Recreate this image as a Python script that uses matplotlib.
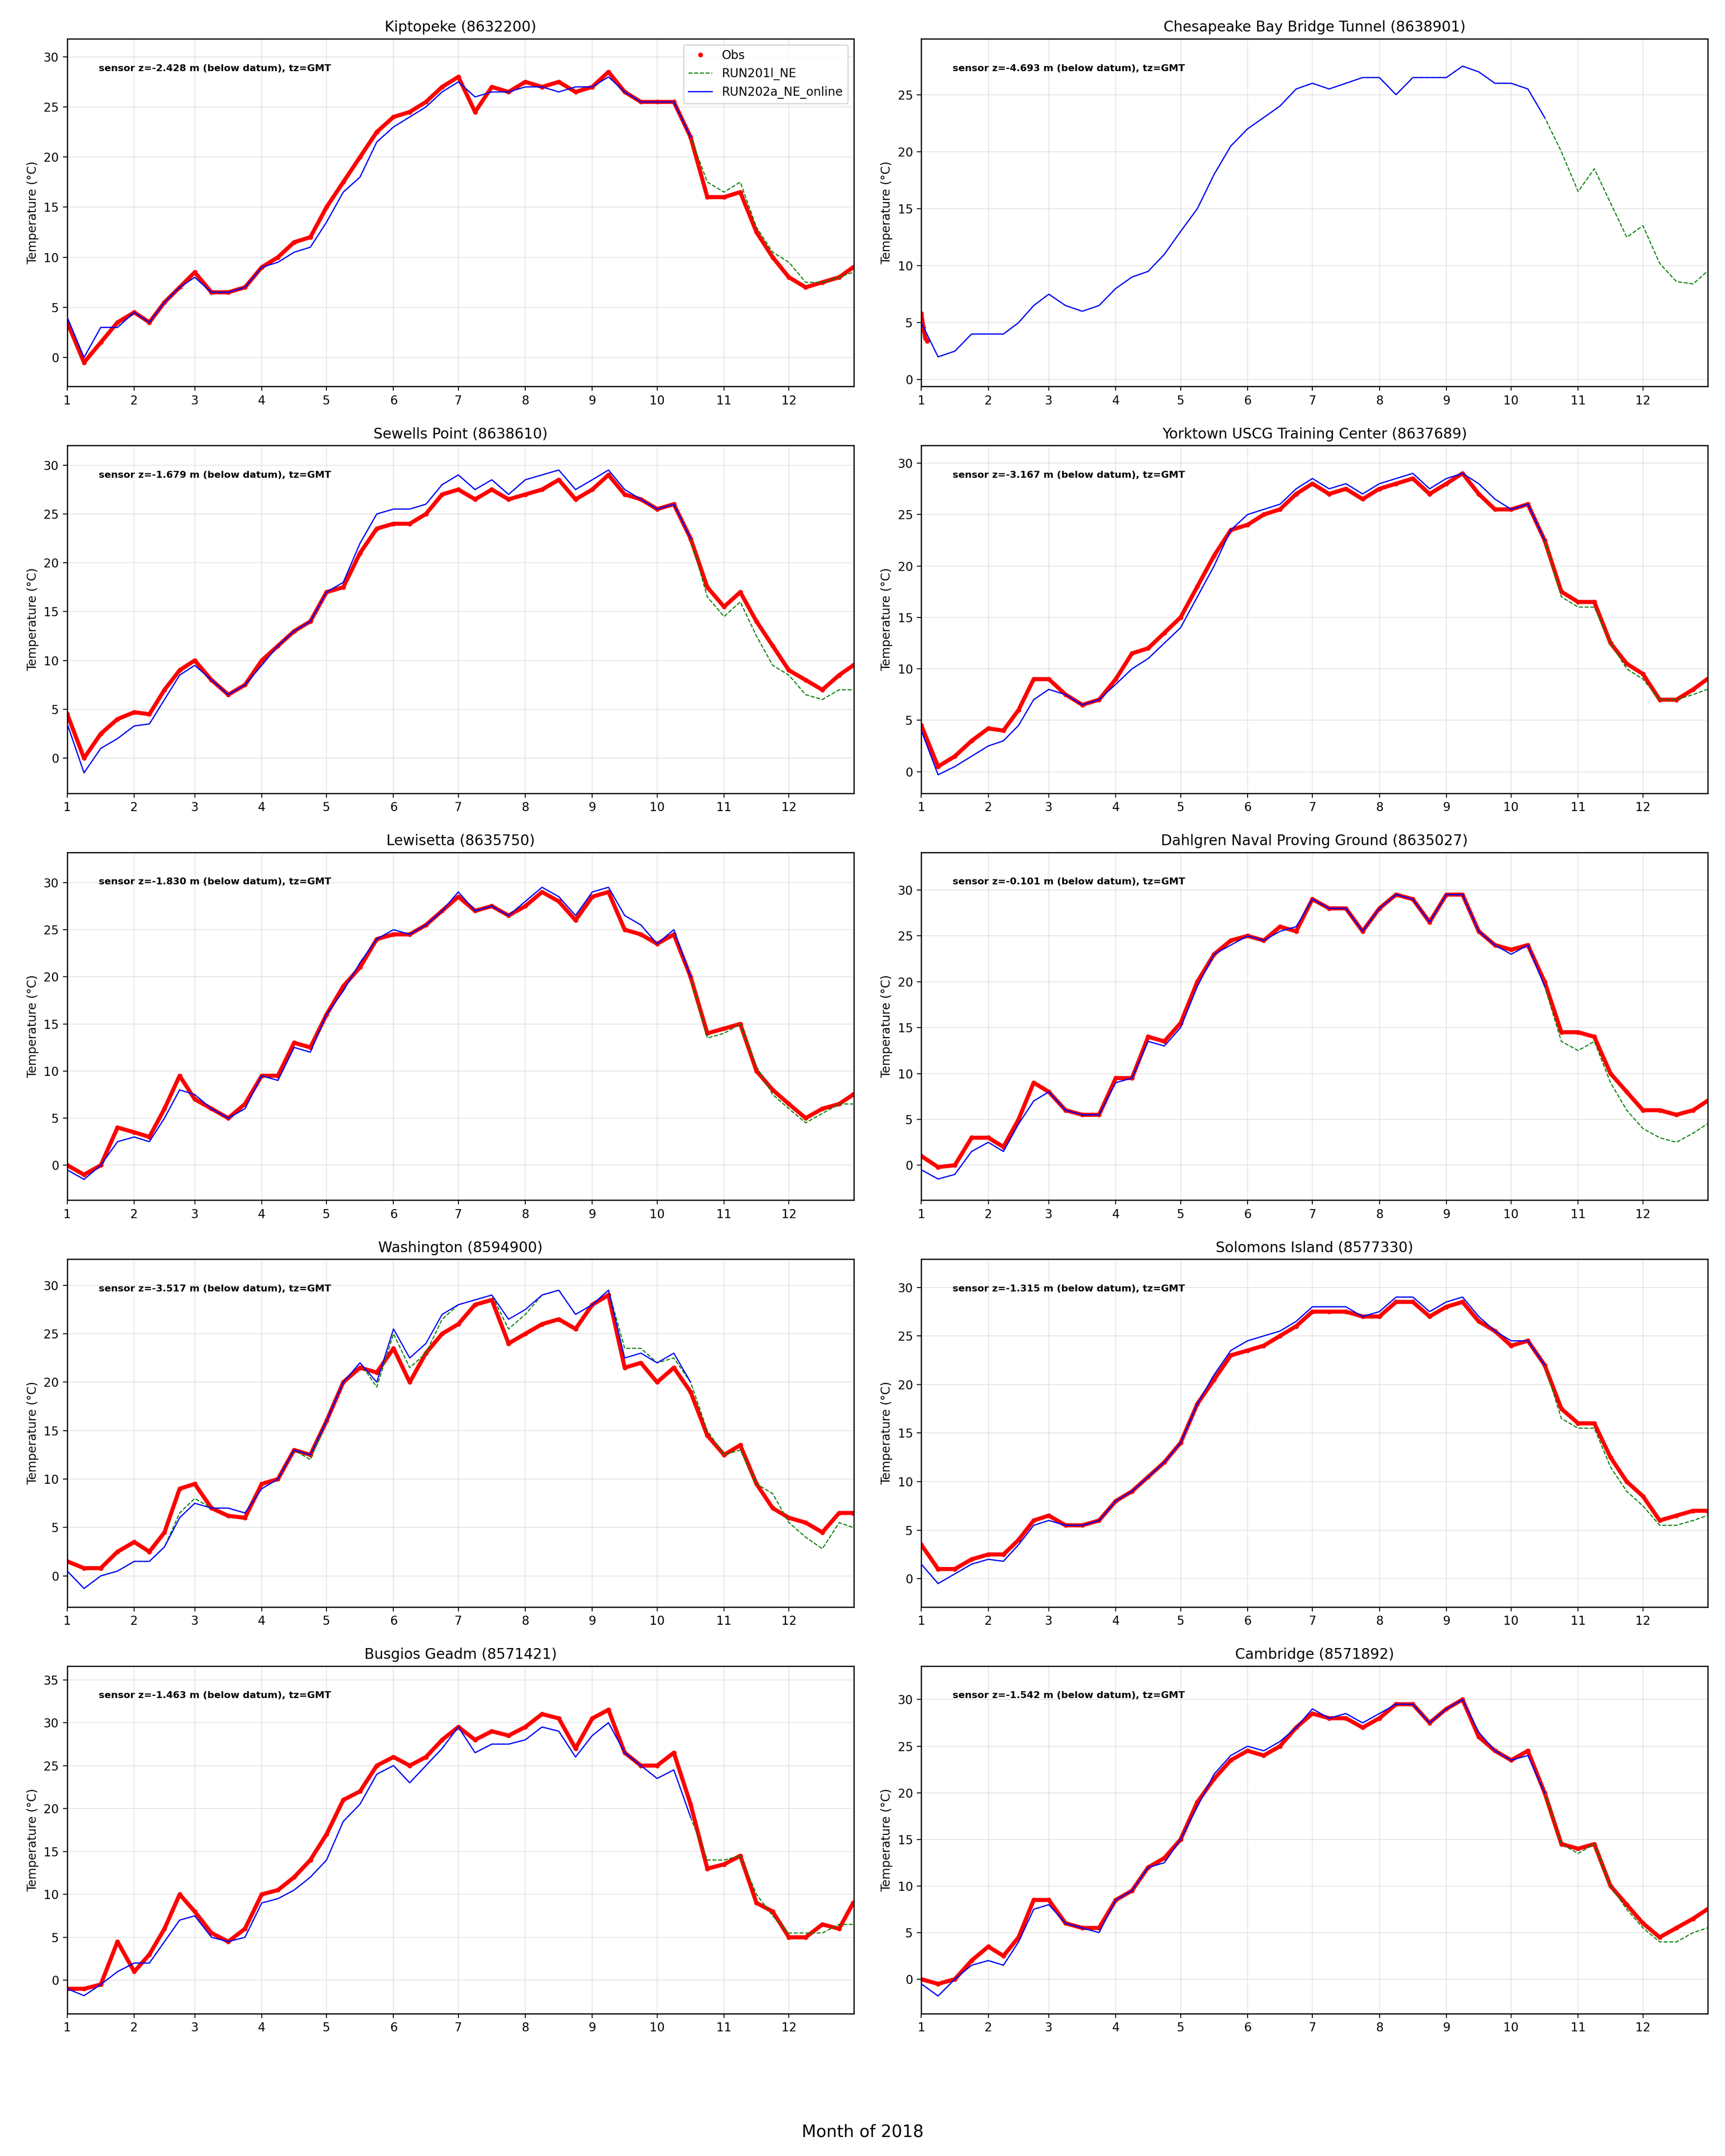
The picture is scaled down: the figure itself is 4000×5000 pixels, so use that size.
import numpy as np
import matplotlib
matplotlib.use('Agg')
import matplotlib.pyplot as plt

# sample positions in "month" units (1.0 = Jan 1, 12.96 ~ Dec 31), every quarter month
T = list(np.arange(1.0, 12.76, 0.25)) + [12.96]
N_R202 = 39   # RUN202a_NE_online stops around mid October (10.5)

MONTH_START = [0, 31, 59, 90, 120, 151, 181, 212, 243, 273, 304, 334]
MONTH_LEN = [31, 28, 31, 30, 31, 30, 31, 31, 30, 31, 30, 31]
MONTH_LABELS = [str(m) for m in range(1, 13)]

STATIONS = [
    'Kiptopeke (8632200)', 'Chesapeake Bay Bridge Tunnel (8638901)',
    'Sewells Point (8638610)', 'Yorktown USCG Training Center (8637689)',
    'Lewisetta (8635750)', 'Dahlgren Naval Proving Ground (8635027)',
    'Washington (8594900)', 'Solomons Island (8577330)',
    'Busgios Geadm (8571421)', 'Cambridge (8571892)',
]
SENSOR_Z = ['-2.428', '-4.693', '-1.679', '-3.167', '-1.830',
            '-0.101', '-3.517', '-1.315', '-1.463', '-1.542']

# --- Kiptopeke
KIP_OBS = [3.5, -0.5, 1.5, 3.5, 4.5, 3.5, 5.5, 7.0, 8.5, 6.5, 6.5, 7.0,
           9.0, 10.0, 11.5, 12.0, 15.0, 17.5, 20.0, 22.5, 24.0, 24.5, 25.5, 27.0,
           28.0, 24.5, 27.0, 26.5, 27.5, 27.0, 27.5, 26.5, 27.0, 28.5, 26.5, 25.5,
           25.5, 25.5, 22.0, 16.0, 16.0, 16.5, 12.5, 10.0, 8.0, 7.0, 7.5, 8.0, 9.0]
KIP_R202 = [4.0, 0.0, 3.0, 3.0, 4.5, 3.5, 5.5, 7.0, 8.0, 6.5, 6.5, 7.0,
            9.0, 9.5, 10.5, 11.0, 13.5, 16.5, 18.0, 21.5, 23.0, 24.0, 25.0, 26.5,
            27.5, 26.0, 26.5, 26.5, 27.0, 27.0, 26.5, 27.0, 27.0, 28.0, 26.5, 25.5,
            25.5, 25.5, 22.0]
KIP_R201 = [4.0, 0.0, 3.0, 3.0, 4.5, 3.5, 5.5, 7.0, 8.0, 6.5, 6.5, 7.0,
            9.0, 9.5, 10.5, 11.0, 13.5, 16.5, 18.0, 21.5, 23.0, 24.0, 25.0, 26.5,
            27.5, 26.0, 26.5, 26.5, 27.0, 27.0, 26.5, 27.0, 27.0, 28.0, 26.5, 25.5,
            25.5, 25.5, 22.0, 17.5, 16.5, 17.5, 13.0, 10.5, 9.5, 7.5, 7.5, 8.0, 8.5]

# --- Chesapeake Bay Bridge Tunnel (obs only for the first days)
CBBT_OBS_T = [1.0, 1.03, 1.06, 1.09]
CBBT_OBS = [5.8, 4.6, 3.6, 3.4]
CBBT_R202 = [5.0, 2.0, 2.5, 4.0, 4.0, 4.0, 5.0, 6.5, 7.5, 6.5, 6.0, 6.5,
             8.0, 9.0, 9.5, 11.0, 13.0, 15.0, 18.0, 20.5, 22.0, 23.0, 24.0, 25.5,
             26.0, 25.5, 26.0, 26.5, 26.5, 25.0, 26.5, 26.5, 26.5, 27.5, 27.0, 26.0,
             26.0, 25.5, 23.0]
CBBT_R201 = [5.0, 2.0, 2.5, 4.0, 4.0, 4.0, 5.0, 6.5, 7.5, 6.5, 6.0, 6.5,
             8.0, 9.0, 9.5, 11.0, 13.0, 15.0, 18.0, 20.5, 22.0, 23.0, 24.0, 25.5,
             26.0, 25.5, 26.0, 26.5, 26.5, 25.0, 26.5, 26.5, 26.5, 27.5, 27.0, 26.0,
             26.0, 25.5, 23.0, 20.0, 16.5, 18.5, 15.5, 12.5, 13.5, 10.2, 8.6, 8.4, 9.5]

# --- Sewells Point
SEW_OBS = [4.5, 0.0, 2.5, 4.0, 4.7, 4.5, 7.0, 9.0, 10.0, 8.0, 6.5, 7.5,
           10.0, 11.5, 13.0, 14.0, 17.0, 17.5, 21.0, 23.5, 24.0, 24.0, 25.0, 27.0,
           27.5, 26.5, 27.5, 26.5, 27.0, 27.5, 28.5, 26.5, 27.5, 29.0, 27.0, 26.5,
           25.5, 26.0, 22.5, 17.5, 15.5, 17.0, 14.0, 11.5, 9.0, 8.0, 7.0, 8.5, 9.5]
SEW_R202 = [3.5, -1.5, 1.0, 2.0, 3.3, 3.5, 6.0, 8.5, 9.5, 8.0, 6.5, 7.5,
            9.5, 11.5, 13.0, 14.0, 17.0, 18.0, 22.0, 25.0, 25.5, 25.5, 26.0, 28.0,
            29.0, 27.5, 28.5, 27.0, 28.5, 29.0, 29.5, 27.5, 28.5, 29.5, 27.5, 26.5,
            25.5, 26.0, 22.5]
SEW_R201 = [3.5, -1.5, 1.0, 2.0, 3.3, 3.5, 6.0, 8.5, 9.5, 8.0, 6.5, 7.5,
            9.5, 11.5, 13.0, 14.0, 17.0, 18.0, 22.0, 25.0, 25.5, 25.5, 26.0, 28.0,
            29.0, 27.5, 28.5, 27.0, 28.5, 29.0, 29.5, 27.5, 28.5, 29.5, 27.5, 26.5,
            25.5, 26.0, 22.5, 16.5, 14.5, 16.0, 12.5, 9.5, 8.5, 6.5, 6.0, 7.0, 7.0]

# --- Yorktown
YRK_OBS = [4.5, 0.5, 1.5, 3.0, 4.2, 4.0, 6.0, 9.0, 9.0, 7.5, 6.5, 7.0,
           9.0, 11.5, 12.0, 13.5, 15.0, 18.0, 21.0, 23.5, 24.0, 25.0, 25.5, 27.0,
           28.0, 27.0, 27.5, 26.5, 27.5, 28.0, 28.5, 27.0, 28.0, 29.0, 27.0, 25.5,
           25.5, 26.0, 22.5, 17.5, 16.5, 16.5, 12.5, 10.5, 9.5, 7.0, 7.0, 8.0, 9.0]
YRK_R202 = [4.0, -0.3, 0.5, 1.5, 2.5, 3.0, 4.5, 7.0, 8.0, 7.5, 6.5, 7.0,
            8.5, 10.0, 11.0, 12.5, 14.0, 17.0, 20.0, 23.5, 25.0, 25.5, 26.0, 27.5,
            28.5, 27.5, 28.0, 27.0, 28.0, 28.5, 29.0, 27.5, 28.5, 29.0, 28.0, 26.5,
            25.5, 26.0, 22.5]
YRK_R201 = [4.0, -0.3, 0.5, 1.5, 2.5, 3.0, 4.5, 7.0, 8.0, 7.5, 6.5, 7.0,
            8.5, 10.0, 11.0, 12.5, 14.0, 17.0, 20.0, 23.5, 25.0, 25.5, 26.0, 27.5,
            28.5, 27.5, 28.0, 27.0, 28.0, 28.5, 29.0, 27.5, 28.5, 29.0, 28.0, 26.5,
            25.5, 26.0, 22.5, 17.0, 16.0, 16.0, 12.5, 10.0, 9.0, 7.0, 7.0, 7.5, 8.0]

# --- Lewisetta
LEW_OBS = [0.0, -1.0, 0.0, 4.0, 3.5, 3.0, 6.0, 9.5, 7.0, 6.0, 5.0, 6.5,
           9.5, 9.5, 13.0, 12.5, 16.0, 19.0, 21.0, 24.0, 24.5, 24.5, 25.5, 27.0,
           28.5, 27.0, 27.5, 26.5, 27.5, 29.0, 28.0, 26.0, 28.5, 29.0, 25.0, 24.5,
           23.5, 24.5, 20.0, 14.0, 14.5, 15.0, 10.0, 8.0, 6.5, 5.0, 6.0, 6.5, 7.5]
LEW_R202 = [-0.5, -1.5, 0.0, 2.5, 3.0, 2.5, 5.0, 8.0, 7.5, 6.0, 5.0, 6.0,
            9.5, 9.0, 12.5, 12.0, 16.0, 18.5, 21.5, 24.0, 25.0, 24.5, 25.5, 27.0,
            29.0, 27.0, 27.5, 26.5, 28.0, 29.5, 28.5, 26.5, 29.0, 29.5, 26.5, 25.5,
            23.5, 25.0, 20.0]
LEW_R201 = [-0.5, -1.5, 0.0, 2.5, 3.0, 2.5, 5.0, 8.0, 7.5, 6.0, 5.0, 6.0,
            9.5, 9.0, 12.5, 12.0, 16.0, 18.5, 21.5, 24.0, 25.0, 24.5, 25.5, 27.0,
            29.0, 27.0, 27.5, 26.5, 28.0, 29.5, 28.5, 26.5, 29.0, 29.5, 26.5, 25.5,
            23.5, 25.0, 20.0, 13.5, 14.0, 15.0, 10.5, 7.5, 6.0, 4.5, 5.5, 6.5, 6.5]

# --- Dahlgren
DAH_OBS = [1.0, -0.2, 0.0, 3.0, 3.0, 2.0, 5.0, 9.0, 8.0, 6.0, 5.5, 5.5,
           9.5, 9.5, 14.0, 13.5, 15.5, 20.0, 23.0, 24.5, 25.0, 24.5, 26.0, 25.5,
           29.0, 28.0, 28.0, 25.5, 28.0, 29.5, 29.0, 26.5, 29.5, 29.5, 25.5, 24.0,
           23.5, 24.0, 20.0, 14.5, 14.5, 14.0, 10.0, 8.0, 6.0, 6.0, 5.5, 6.0, 7.0]
DAH_R202 = [-0.5, -1.5, -1.0, 1.5, 2.5, 1.5, 4.5, 7.0, 8.0, 6.0, 5.5, 5.5,
            9.0, 9.5, 13.5, 13.0, 15.0, 19.5, 23.0, 24.0, 25.0, 24.5, 25.5, 26.0,
            29.0, 28.0, 28.0, 25.5, 28.0, 29.5, 29.0, 26.5, 29.5, 29.5, 25.5, 24.0,
            23.0, 24.0, 19.5]
DAH_R201 = [-0.5, -1.5, -1.0, 1.5, 2.5, 1.5, 4.5, 7.0, 8.0, 6.0, 5.5, 5.5,
            9.0, 9.5, 13.5, 13.0, 15.0, 19.5, 23.0, 24.0, 25.0, 24.5, 25.5, 26.0,
            29.0, 28.0, 28.0, 25.5, 28.0, 29.5, 29.0, 26.5, 29.5, 29.5, 25.5, 24.0,
            23.0, 24.0, 19.5, 13.5, 12.5, 13.5, 9.0, 6.0, 4.0, 3.0, 2.5, 3.5, 4.5]

# --- Washington
WAS_OBS = [1.5, 0.8, 0.8, 2.5, 3.5, 2.5, 4.5, 9.0, 9.5, 7.0, 6.2, 6.0,
           9.5, 10.0, 13.0, 12.5, 16.0, 20.0, 21.5, 21.0, 23.5, 20.0, 23.0, 25.0,
           26.0, 28.0, 28.5, 24.0, 25.0, 26.0, 26.5, 25.5, 28.0, 29.0, 21.5, 22.0,
           20.0, 21.5, 19.0, 14.5, 12.5, 13.5, 9.5, 7.0, 6.0, 5.5, 4.5, 6.5, 6.5]
WAS_R202 = [0.5, -1.3, 0.0, 0.5, 1.5, 1.5, 3.0, 6.0, 7.5, 7.0, 7.0, 6.5,
            9.0, 10.0, 13.0, 12.5, 16.0, 20.0, 22.0, 20.0, 25.5, 22.5, 24.0, 27.0,
            28.0, 28.5, 29.0, 26.5, 27.5, 29.0, 29.5, 27.0, 28.0, 29.5, 22.5, 23.0,
            22.0, 23.0, 20.0]
WAS_R201 = [0.5, -1.3, 0.0, 0.5, 1.5, 1.5, 3.0, 6.5, 8.0, 7.0, 7.0, 6.5,
            9.0, 10.0, 13.0, 12.0, 16.0, 20.0, 22.0, 19.5, 25.0, 21.5, 23.0, 26.5,
            28.0, 28.5, 29.0, 25.5, 27.0, 29.0, 29.5, 27.0, 28.0, 29.5, 23.5, 23.5,
            22.0, 22.5, 20.0, 15.0, 12.5, 13.0, 9.5, 8.5, 5.5, 4.0, 2.8, 5.5, 5.0]

# --- Solomons Island
SOL_OBS = [3.5, 1.0, 1.0, 2.0, 2.5, 2.5, 4.0, 6.0, 6.5, 5.5, 5.5, 6.0,
           8.0, 9.0, 10.5, 12.0, 14.0, 18.0, 20.5, 23.0, 23.5, 24.0, 25.0, 26.0,
           27.5, 27.5, 27.5, 27.0, 27.0, 28.5, 28.5, 27.0, 28.0, 28.5, 26.5, 25.5,
           24.0, 24.5, 22.0, 17.5, 16.0, 16.0, 12.5, 10.0, 8.5, 6.0, 6.5, 7.0, 7.0]
SOL_R202 = [1.5, -0.5, 0.5, 1.5, 2.0, 1.8, 3.5, 5.5, 6.0, 5.5, 5.5, 6.0,
            8.0, 9.0, 10.5, 12.0, 14.0, 18.0, 21.0, 23.5, 24.5, 25.0, 25.5, 26.5,
            28.0, 28.0, 28.0, 27.0, 27.5, 29.0, 29.0, 27.5, 28.5, 29.0, 27.0, 25.5,
            24.5, 24.5, 22.0]
SOL_R201 = [1.5, -0.5, 0.5, 1.5, 2.0, 1.8, 3.5, 5.5, 6.0, 5.5, 5.5, 6.0,
            8.0, 9.0, 10.5, 12.0, 14.0, 18.0, 21.0, 23.5, 24.5, 25.0, 25.5, 26.5,
            28.0, 28.0, 28.0, 27.0, 27.5, 29.0, 29.0, 27.5, 28.5, 29.0, 27.0, 25.5,
            24.5, 24.5, 22.0, 16.5, 15.5, 15.5, 11.5, 9.0, 7.5, 5.5, 5.5, 6.0, 6.5]

# --- Busgios Geadm
BUS_OBS = [-1.0, -1.0, -0.5, 4.5, 1.0, 3.0, 6.0, 10.0, 8.0, 5.5, 4.5, 6.0,
           10.0, 10.5, 12.0, 14.0, 17.0, 21.0, 22.0, 25.0, 26.0, 25.0, 26.0, 28.0,
           29.5, 28.0, 29.0, 28.5, 29.5, 31.0, 30.5, 27.0, 30.5, 31.5, 26.5, 25.0,
           25.0, 26.5, 20.5, 13.0, 13.5, 14.5, 9.0, 8.0, 5.0, 5.0, 6.5, 6.0, 9.0]
BUS_R202 = [-1.0, -1.8, -0.5, 1.0, 2.0, 2.0, 4.5, 7.0, 7.5, 5.0, 4.5, 5.0,
            9.0, 9.5, 10.5, 12.0, 14.0, 18.5, 20.5, 24.0, 25.0, 23.0, 25.0, 27.0,
            29.5, 26.5, 27.5, 27.5, 28.0, 29.5, 29.0, 26.0, 28.5, 30.0, 26.5, 25.0,
            23.5, 24.5, 19.0]
BUS_R201 = [-1.0, -1.8, -0.5, 1.0, 2.0, 2.0, 4.5, 7.0, 7.5, 5.0, 4.5, 5.0,
            9.0, 9.5, 10.5, 12.0, 14.0, 18.5, 20.5, 24.0, 25.0, 23.0, 25.0, 27.0,
            29.5, 26.5, 27.5, 27.5, 28.0, 29.5, 29.0, 26.0, 28.5, 30.0, 26.5, 25.0,
            23.5, 24.5, 19.0, 14.0, 14.0, 14.5, 10.0, 7.5, 5.5, 5.5, 5.5, 6.5, 6.5]

# --- Cambridge
CAM_OBS = [0.0, -0.5, 0.0, 2.0, 3.5, 2.5, 4.5, 8.5, 8.5, 6.0, 5.5, 5.5,
           8.5, 9.5, 12.0, 13.0, 15.0, 19.0, 21.5, 23.5, 24.5, 24.0, 25.0, 27.0,
           28.5, 28.0, 28.0, 27.0, 28.0, 29.5, 29.5, 27.5, 29.0, 30.0, 26.0, 24.5,
           23.5, 24.5, 20.0, 14.5, 14.0, 14.5, 10.0, 8.0, 6.0, 4.5, 5.5, 6.5, 7.5]
CAM_R202 = [-0.5, -1.8, 0.0, 1.5, 2.0, 1.5, 4.0, 7.5, 8.0, 6.0, 5.5, 5.0,
            8.5, 9.5, 12.0, 12.5, 15.0, 18.5, 22.0, 24.0, 25.0, 24.5, 25.5, 27.0,
            29.0, 28.0, 28.5, 27.5, 28.5, 29.5, 29.5, 27.5, 29.0, 30.0, 26.5, 24.5,
            23.5, 24.0, 20.0]
CAM_R201 = [-0.5, -1.8, 0.0, 1.5, 2.0, 1.5, 4.0, 7.5, 8.0, 6.0, 5.5, 5.0,
            8.5, 9.5, 12.0, 12.5, 15.0, 18.5, 22.0, 24.0, 25.0, 24.5, 25.5, 27.0,
            29.0, 28.0, 28.5, 27.5, 28.5, 29.5, 29.5, 27.5, 29.0, 30.0, 26.5, 24.5,
            23.5, 24.0, 20.0, 14.5, 13.5, 14.5, 10.0, 7.5, 5.5, 4.0, 4.0, 5.0, 5.5]

OBS = [KIP_OBS, CBBT_OBS, SEW_OBS, YRK_OBS, LEW_OBS,
       DAH_OBS, WAS_OBS, SOL_OBS, BUS_OBS, CAM_OBS]
R201 = [KIP_R201, CBBT_R201, SEW_R201, YRK_R201, LEW_R201,
        DAH_R201, WAS_R201, SOL_R201, BUS_R201, CAM_R201]
R202 = [KIP_R202, CBBT_R202, SEW_R202, YRK_R202, LEW_R202,
        DAH_R202, WAS_R202, SOL_R202, BUS_R202, CAM_R202]

# y-limits per panel as seen in the figure
YLIMS = [(-2.9, 31.8), (-0.6, 29.9), (-3.6, 32.0), (-2.1, 31.7), (-3.7, 33.2),
         (-3.8, 34.1), (-3.2, 32.7), (-2.9, 32.9), (-3.9, 36.6), (-3.7, 33.6)]


def to_day(months):
    # month.fraction -> day of year (0 = Jan 1)
    out = []
    for m in months:
        i = min(int(m), 12) - 1
        out.append(MONTH_START[i] + (m - (i + 1)) * MONTH_LEN[i])
    return np.array(out)


days = to_day(T)

fig, axes = plt.subplots(5, 2, figsize=(20, 25))
fig.subplots_adjust(left=0.039, right=0.990, top=0.982, bottom=0.066,
                    wspace=0.086, hspace=0.17)

for k, ax in enumerate(axes.flat):
    obs_x = to_day(CBBT_OBS_T) if k == 1 else days
    obs = OBS[k]
    ax.plot(obs_x, obs, color='red', lw=3.4, solid_capstyle='round',
            solid_joinstyle='round', label='_nolegend_', zorder=2)
    ax.plot(obs_x, obs, '.', color='red', ms=6, label='Obs', zorder=2)
    ax.plot(days, R201[k], '--', color='green', lw=0.9,
            label='RUN201l_NE', zorder=3)
    ax.plot(days[:N_R202], R202[k], '-', color='blue', lw=1.0,
            label='RUN202a_NE_online', zorder=4)

    ax.set_title(STATIONS[k], fontsize=12)
    ax.set_ylabel('Temperature (°C)', fontsize=10)
    ax.set_xlim(0, 364)
    ax.set_ylim(YLIMS[k])
    ax.set_xticks(MONTH_START)
    ax.set_xticklabels(MONTH_LABELS)
    ax.set_yticks(np.arange(0, YLIMS[k][1], 5))
    ax.grid(alpha=0.3)
    for s in ax.spines.values():
        s.set_linewidth(1.0)
    ax.text(0.04, 0.915,
            f'sensor z={SENSOR_Z[k]} m (below datum), tz=GMT',
            transform=ax.transAxes, fontsize=8, fontweight='bold',
            va='center', ha='left')
    if k == 0:
        ax.legend(loc='upper right', fontsize=10)

fig.text(0.5, 0.011, 'Month of 2018', ha='center', va='center', fontsize=14)

plt.savefig('out.png', dpi=200)
